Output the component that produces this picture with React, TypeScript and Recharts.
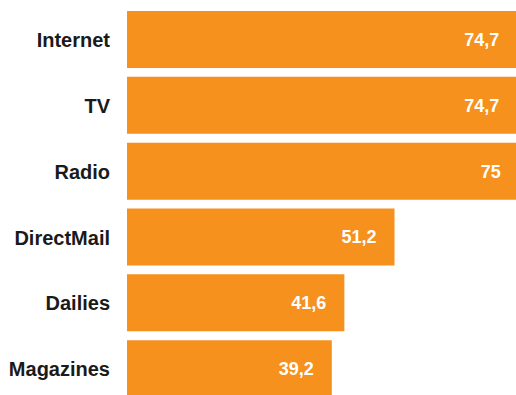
import React from 'react';
import { BarChart, Bar, XAxis, YAxis, LabelList } from 'recharts';

const categories = ['Internet', 'TV', 'Radio', 'DirectMail', 'Dailies', 'Magazines'];
const values = [74.7, 74.7, 75, 51.2, 41.6, 39.2];

const data = categories.map((name, i) => ({ name, value: values[i] }));

const FONT = '"Liberation Sans", Arial, Helvetica, sans-serif';

export default function App() {
  return (
    <div style={{ position: 'absolute', left: 0, top: 0, width: 516, height: 395, overflow: 'hidden', background: '#fff' }}>
      <BarChart
        width={545}
        height={402}
        data={data}
        layout="vertical"
        margin={{ top: 7, right: 0, bottom: 0, left: 0 }}
      >
        <XAxis type="number" domain={[0, 80]} hide />
        <YAxis
          type="category"
          dataKey="name"
          width={127}
          axisLine={false}
          tickLine={false}
          tickSize={0}
          tickMargin={17}
          tick={{ fill: '#1a1a1a', fontSize: 20, fontWeight: 700, fontFamily: FONT }}
        />
        <Bar dataKey="value" fill="#F6911E" barSize={57} isAnimationActive={false}>
          <LabelList
            dataKey="value"
            position="insideRight"
            offset={18}
            formatter={(v: number) => String(v).replace('.', ',')}
            style={{ fill: '#ffffff', fontSize: 18, fontWeight: 700, fontFamily: FONT }}
          />
        </Bar>
      </BarChart>
    </div>
  );
}
